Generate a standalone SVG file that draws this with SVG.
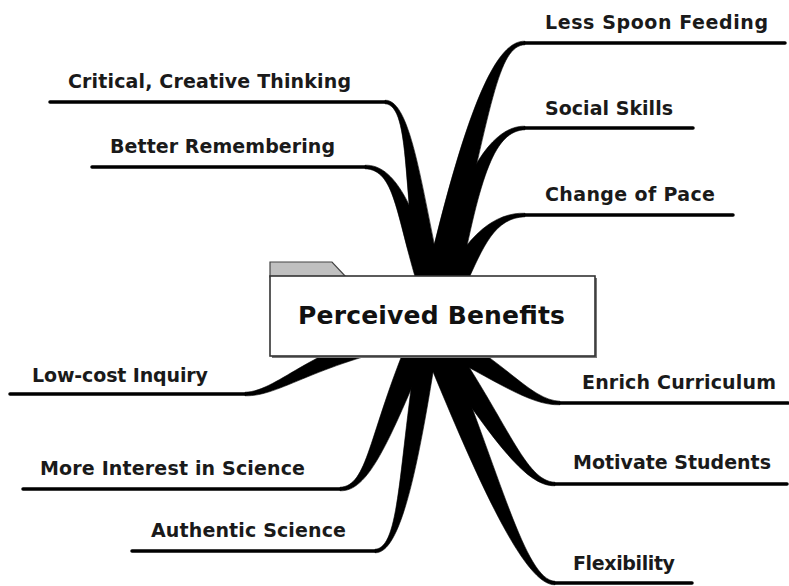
<svg xmlns="http://www.w3.org/2000/svg" width="789" height="586" viewBox="0 0 789 586">
<style>
.br{fill:#000;stroke:#000;stroke-width:0.6;stroke-linejoin:round}
.ln{stroke:#000;stroke-width:3.5;stroke-linecap:round;fill:none}
.lbl{font-family:"DejaVu Sans","Liberation Sans",sans-serif;font-weight:bold;font-size:19px;fill:#1a1a1a}
.ctr{font-family:"DejaVu Sans","Liberation Sans",sans-serif;font-weight:bold;font-size:25px;fill:#111}
</style>
<rect width="789" height="586" fill="#fff"/>
<g id="connectors">
<line class="ln" x1="525" y1="43" x2="785" y2="43"/>
<line class="ln" x1="525" y1="128" x2="693" y2="128"/>
<line class="ln" x1="525" y1="215" x2="733" y2="215"/>
<line class="ln" x1="50" y1="102" x2="385" y2="102"/>
<line class="ln" x1="92" y1="167" x2="365" y2="167"/>
<line class="ln" x1="10" y1="394" x2="245" y2="394"/>
<line class="ln" x1="23" y1="489" x2="340" y2="489"/>
<line class="ln" x1="132" y1="551" x2="375" y2="551"/>
<line class="ln" x1="560" y1="403" x2="788" y2="403"/>
<line class="ln" x1="555" y1="484" x2="787" y2="484"/>
<line class="ln" x1="555" y1="583" x2="692" y2="583"/>
<path class="br" d="M385,103.75 C412,105 401.3,202.5 421.3,287.5 L442.7,282.5 C422.7,197.5 412,99 385,100.25 Z"/>
<path class="br" d="M365,168.75 C395,170 395.4,212.9 418.4,287.9 L437.6,282.1 C414.6,207.1 395,164 365,165.25 Z"/>
<path class="br" d="M525,41.25 C498,40 468.3,97.3 425.3,282.3 L448.7,287.7 C491.7,102.7 498,46 525,44.75 Z"/>
<path class="br" d="M525,126.25 C495,125 459.2,167.9 437.2,282.9 L458.8,287.1 C480.8,172.1 495,131 525,129.75 Z"/>
<path class="br" d="M525,213.25 C495,212 465.9,235.9 445.9,280.9 L464.1,289.1 C484.1,244.1 495,218 525,216.75 Z"/>
<path class="br" d="M245,395.75 C280,397 316.8,361.8 426.8,341.8 L423.2,322.2 C313.2,342.2 280,391 245,392.25 Z"/>
<path class="br" d="M340,490.75 C368,492 388.1,444.3 430.1,344.3 L409.9,335.7 C367.9,435.7 368,486 340,487.25 Z"/>
<path class="br" d="M375,552.75 C400,554 417.8,472 437.8,342 L418.2,338 C398.2,468 400,548 375,549.25 Z"/>
<path class="br" d="M560,401.25 C530,400 504.9,360.2 444.9,330.2 L435.1,349.8 C495.1,379.8 530,406 560,404.75 Z"/>
<path class="br" d="M555,482.25 C525,481 509.1,423.8 447.1,333.8 L428.9,346.2 C490.9,436.2 525,487 555,485.75 Z"/>
<path class="br" d="M555,581.25 C525,580 501.1,475.5 444.1,335.5 L421.9,344.5 C478.9,484.5 525,586 555,584.75 Z"/>
</g>
<g id="center">
<polygon points="270,277 270,262 332,262 346,277" fill="#c0c0c0" stroke="#444" stroke-width="1.2"/>
<rect x="272" y="278" width="325" height="80" fill="#777"/>
<rect x="270" y="276" width="325" height="80" fill="#fff" stroke="#333" stroke-width="1.6"/>
<text class="ctr" x="298" y="324" textLength="267" lengthAdjust="spacing">Perceived Benefits</text>
</g>
<g id="n-less-spoon"><text class="lbl" x="545" y="29" textLength="223" lengthAdjust="spacing">Less Spoon Feeding</text></g>
<g id="n-social"><text class="lbl" x="545" y="115" textLength="128" lengthAdjust="spacing">Social Skills</text></g>
<g id="n-change"><text class="lbl" x="545" y="201" textLength="170" lengthAdjust="spacing">Change of Pace</text></g>
<g id="n-critical"><text class="lbl" x="68" y="88" textLength="283" lengthAdjust="spacing">Critical, Creative Thinking</text></g>
<g id="n-better"><text class="lbl" x="110" y="153" textLength="225" lengthAdjust="spacing">Better Remembering</text></g>
<g id="n-lowcost"><text class="lbl" x="32" y="382" textLength="176" lengthAdjust="spacing">Low-cost Inquiry</text></g>
<g id="n-interest"><text class="lbl" x="40" y="475" textLength="265" lengthAdjust="spacing">More Interest in Science</text></g>
<g id="n-authentic"><text class="lbl" x="151" y="537" textLength="195" lengthAdjust="spacing">Authentic Science</text></g>
<g id="n-enrich"><text class="lbl" x="582" y="389" textLength="194" lengthAdjust="spacing">Enrich Curriculum</text></g>
<g id="n-motivate"><text class="lbl" x="573" y="469" textLength="198" lengthAdjust="spacing">Motivate Students</text></g>
<g id="n-flex"><text class="lbl" x="573" y="570" textLength="102" lengthAdjust="spacing">Flexibility</text></g>
</svg>
